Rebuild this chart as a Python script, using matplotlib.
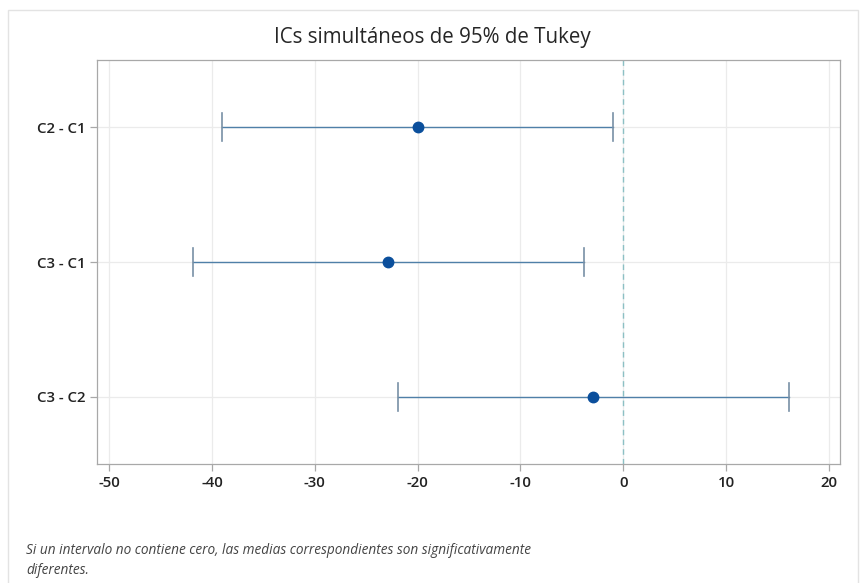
import matplotlib
matplotlib.use("Agg")
import matplotlib.pyplot as plt
from matplotlib.patches import Rectangle

# Tukey simultaneous 95% confidence intervals for pairwise differences
comparisons = ["C2 - C1", "C3 - C1", "C3 - C2"]
diff_center = [-20.0, -22.85, -2.9]
ci_lower = [-39.05, -41.9, -21.95]
ci_upper = [-0.95, -3.8, 16.15]
x_ticks = [-50, -40, -30, -20, -10, 0, 10, 20]

plt.rcParams["font.family"] = ["Open Sans", "DejaVu Sans"]

fig = plt.figure(figsize=(8.64, 5.83), dpi=100)
ax = fig.add_axes([97 / 864, 1 - 464 / 583, (840 - 97) / 864, (464 - 60) / 583])

# thin frame around the whole graph panel
fig.patches.append(Rectangle((8 / 864, -0.01), (858 - 8) / 864, 1 - 10 / 583 + 0.01,
                             transform=fig.transFigure, fill=False,
                             edgecolor="#e3e3e3", linewidth=1.0))

ypos = list(range(len(comparisons)))
for y, c, lo, hi in zip(ypos, diff_center, ci_lower, ci_upper):
    ax.plot([lo, hi], [y, y], color="#4f80a8", linewidth=1.0, zorder=3)
    for xe in (lo, hi):
        ax.plot([xe, xe], [y - 0.105, y + 0.105], color="#7890a6", linewidth=1.2, zorder=3)
    ax.plot(c, y, marker="o", markersize=7.5, color="#0b4f9c", zorder=4)

ax.axvline(0, color="#8cc0c4", linestyle=(0, (4, 3)), linewidth=1.0, zorder=2)

ax.set_xlim(-51.2, 21.1)
ax.set_ylim(2.5, -0.5)
ax.set_xticks(x_ticks)
ax.set_xticklabels([str(t) for t in x_ticks])
ax.set_yticks(ypos)
ax.set_yticklabels(comparisons)
ax.grid(True, color="#ebebeb", linewidth=0.9, zorder=0)
ax.set_axisbelow(True)

for side in ("top", "right", "left", "bottom"):
    ax.spines[side].set_color("#a8a8a8")
    ax.spines[side].set_linewidth(0.9)
ax.tick_params(axis="both", colors="#a8a8a8", labelcolor="#222222", length=5, width=0.9,
               labelsize=10.8)
for lab in ax.get_xticklabels() + ax.get_yticklabels():
    lab.set_fontweight("semibold")

fig.text(0.5, 1 - 37 / 583, "ICs simultáneos de 95% de Tukey", ha="center", va="center",
         fontsize=14.8, color="#262626")

fig.text(26 / 864, 1 - 551 / 583,
         "Si un intervalo no contiene cero, las medias correspondientes son significativamente",
         ha="left", va="center", fontsize=9.8, style="italic", color="#444444")
fig.text(26 / 864, 1 - 571 / 583, "diferentes.",
         ha="left", va="center", fontsize=9.8, style="italic", color="#444444")

fig.savefig("out.png", dpi=100)
